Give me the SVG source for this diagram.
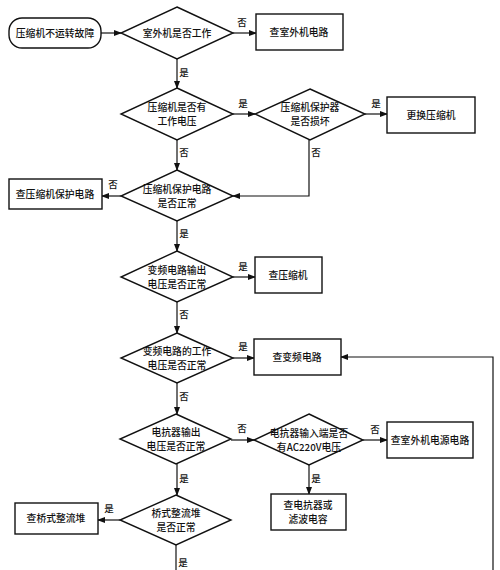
<svg xmlns="http://www.w3.org/2000/svg" width="500" height="570" viewBox="0 0 500 570">
<defs>
<marker id="ah" markerWidth="8" markerHeight="6" refX="7" refY="3" orient="auto" markerUnits="userSpaceOnUse">
<path d="M0,0 L8,3 L0,6 Z" fill="#111"/>
</marker>
<style>
.n{fill:#fff;stroke:#111;stroke-width:1.4}
.c{fill:none;stroke:#111;stroke-width:1.2}
.a{marker-end:url(#ah)}
text{font-family:"Noto Sans CJK SC","Noto Sans",sans-serif;font-size:9.8px;fill:#111;text-anchor:middle;font-weight:500}
.l{font-size:9.5px}
</style>
</defs>
<rect width="500" height="570" fill="#fff"/>
<g id="connectors">
<path class="c a" d="M101,33 H121"/>
<path class="c a" d="M233,33 H256"/>
<text class="l" x="242" y="26">否</text>
<path class="c a" d="M177,59 V88"/>
<text class="l" x="184" y="76">是</text>
<path class="c a" d="M233,114 H255"/>
<text class="l" x="243" y="107">是</text>
<path class="c a" d="M365,114 H387"/>
<text class="l" x="376" y="107">是</text>
<path class="c a" d="M309,140 V196 H233"/>
<text class="l" x="316" y="156">否</text>
<path class="c a" d="M177,140 V170"/>
<text class="l" x="184" y="156">否</text>
<path class="c a" d="M121,196 H102"/>
<text class="l" x="113" y="188">否</text>
<path class="c a" d="M177,221 V251"/>
<text class="l" x="184" y="237">是</text>
<path class="c a" d="M233,277 H255"/>
<text class="l" x="243" y="270">是</text>
<path class="c a" d="M177,302 V333"/>
<text class="l" x="184" y="318">否</text>
<path class="c a" d="M233,358 H254"/>
<text class="l" x="243" y="350">是</text>
<path class="c a" d="M493,570 V357 H341"/>
<path class="c a" d="M177,383 V414"/>
<text class="l" x="184" y="400">否</text>
<path class="c a" d="M231,440 H254"/>
<text class="l" x="242" y="432">否</text>
<path class="c a" d="M363,440 H387"/>
<text class="l" x="375" y="433">否</text>
<path class="c a" d="M309,465 V494"/>
<text class="l" x="316" y="482">是</text>
<path class="c a" d="M177,464 V495"/>
<text class="l" x="184" y="482">是</text>
<path class="c a" d="M120,520 H98"/>
<text class="l" x="109" y="512">是</text>
<path class="c" d="M176,545 V570"/>
<text class="l" x="183" y="566">是</text>
</g>
<g id="start"><rect class="n" x="9" y="18" width="92" height="30" rx="13"/><text x="55" y="37">压缩机不运转故障</text></g>
<g id="d1"><polygon class="n" points="177,7 233,33 177,59 121,33"/><text x="177" y="37">室外机是否工作</text></g>
<g id="b1"><rect class="n" x="256" y="14" width="87" height="36"/><text x="299" y="36">查室外机电路</text></g>
<g id="d2"><polygon class="n" points="177,88 233,114 177,140 121,114"/><text x="177" y="111">压缩机是否有</text><text x="177" y="125">工作电压</text></g>
<g id="d3"><polygon class="n" points="310,89 365,114 310,140 255,114"/><text x="310" y="111">压缩机保护器</text><text x="310" y="125">是否损坏</text></g>
<g id="b2"><rect class="n" x="387" y="97" width="88" height="36"/><text x="431" y="119">更换压缩机</text></g>
<g id="d4"><polygon class="n" points="177,170 233,196 177,221 121,196"/><text x="177" y="193">压缩机保护电路</text><text x="177" y="207">是否正常</text></g>
<g id="b3"><rect class="n" x="9" y="179" width="93" height="30"/><text x="55" y="198">查压缩机保护电路</text></g>
<g id="d5"><polygon class="n" points="177,251 233,277 177,302 121,277"/><text x="177" y="274">变频电路输出</text><text x="177" y="288">电压是否正常</text></g>
<g id="b4"><rect class="n" x="255" y="257" width="67" height="36"/><text x="288" y="279">查压缩机</text></g>
<g id="d6"><polygon class="n" points="177,333 233,358 177,383 121,358"/><text x="177" y="355">变频电路的工作</text><text x="177" y="369">电压是否正常</text></g>
<g id="b5"><rect class="n" x="254" y="339" width="87" height="36"/><text x="297" y="361">查变频电路</text></g>
<g id="d7"><polygon class="n" points="176,414 231,439 176,464 120,439"/><text x="176" y="436">电抗器输出</text><text x="176" y="450">电压是否正常</text></g>
<g id="d8"><polygon class="n" points="309,414 363,440 309,465 254,440"/><text x="309" y="437">电抗器输入端是否</text><text x="309" y="451">有AC220V电压</text></g>
<g id="b6"><rect class="n" x="387" y="422" width="86" height="36"/><text x="430" y="444">查室外机电源电路</text></g>
<g id="b7"><rect class="n" x="271" y="494" width="75" height="36"/><text x="308" y="509">查电抗器或</text><text x="308" y="523">滤波电容</text></g>
<g id="d9"><polygon class="n" points="176,495 231,520 176,545 120,520"/><text x="176" y="517">桥式整流堆</text><text x="176" y="531">是否正常</text></g>
<g id="b8"><rect class="n" x="15" y="503" width="83" height="31"/><text x="56" y="522">查桥式整流堆</text></g>
</svg>
